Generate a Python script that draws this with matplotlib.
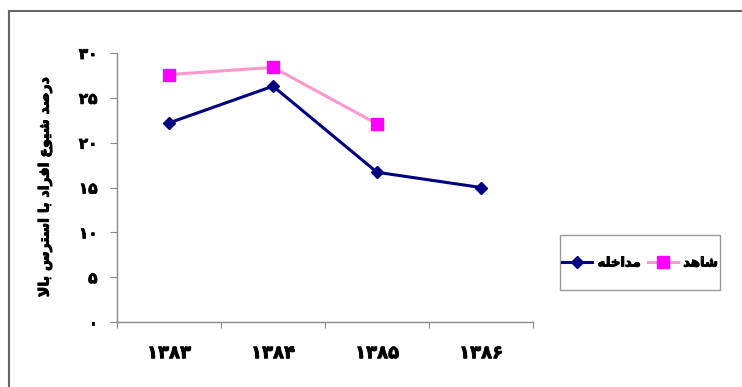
import matplotlib
matplotlib.use("Agg")
import matplotlib.pyplot as plt
from matplotlib.lines import Line2D
from matplotlib.patches import Rectangle
import matplotlib.patheffects as pe

# Data
years = ["۱۳۸۳", "۱۳۸۴", "۱۳۸۵", "۱۳۸۶"]
intervention = [22.2, 26.3, 16.7, 15.0]   # مداخله
control = [27.6, 28.4, 22.1]              # شاهد
y_ticks = [0, 5, 10, 15, 20, 25, 30]
y_tick_labels = ["۰", "۵", "۱۰", "۱۵", "۲۰", "۲۵", "۳۰"]
label_intervention = "مداخله"
label_control = "شاهد"
y_title = "درصد شیوع افراد با استرس بالا"

# Minimal Persian contextual shaping (presentation forms) + visual reordering
FORMS = {
    'ا': ('\uFE8D', '\uFE8E', None, None),
    'ب': ('\uFE8F', '\uFE90', '\uFE91', '\uFE92'),
    'ت': ('\uFE95', '\uFE96', '\uFE97', '\uFE98'),
    'خ': ('\uFEA5', '\uFEA6', '\uFEA7', '\uFEA8'),
    'د': ('\uFEA9', '\uFEAA', None, None),
    'ر': ('\uFEAD', '\uFEAE', None, None),
    'س': ('\uFEB1', '\uFEB2', '\uFEB3', '\uFEB4'),
    'ش': ('\uFEB5', '\uFEB6', '\uFEB7', '\uFEB8'),
    'ص': ('\uFEB9', '\uFEBA', '\uFEBB', '\uFEBC'),
    'ع': ('\uFEC9', '\uFECA', '\uFECB', '\uFECC'),
    'ف': ('\uFED1', '\uFED2', '\uFED3', '\uFED4'),
    'ل': ('\uFEDD', '\uFEDE', '\uFEDF', '\uFEE0'),
    'م': ('\uFEE1', '\uFEE2', '\uFEE3', '\uFEE4'),
    'ه': ('\uFEE9', '\uFEEA', '\uFEEB', '\uFEEC'),
    'و': ('\uFEED', '\uFEEE', None, None),
    'ی': ('\uFEEF', '\uFEF0', '\uFEF3', '\uFEF4'),
    'LA': ('\uFEFB', '\uFEFC', None, None),
}


def shape(text):
    chars = []
    i = 0
    while i < len(text):
        if text[i] == 'ل' and i + 1 < len(text) and text[i + 1] == 'ا':
            chars.append('LA')
            i += 2
        else:
            chars.append(text[i])
            i += 1
    out = []
    for k, c in enumerate(chars):
        if c not in FORMS:
            out.append(c)
            continue
        prev = chars[k - 1] if k > 0 else None
        nxt = chars[k + 1] if k + 1 < len(chars) else None
        jp = prev in FORMS and FORMS[prev][2] is not None
        jn = FORMS[c][2] is not None and nxt in FORMS
        iso, fin, ini, med = FORMS[c]
        if jp and jn:
            out.append(med)
        elif jp:
            out.append(fin)
        elif jn:
            out.append(ini)
        else:
            out.append(iso)
    return "".join(out)[::-1]


plt.rcParams['font.family'] = ['DejaVu Sans']
plt.rcParams['font.weight'] = 'bold'

W, H = 742, 387
fig = plt.figure(figsize=(W / 100, H / 100), dpi=100)
ax = fig.add_axes([117 / W, 1 - 322 / H, (533 - 117) / W, (322 - 53) / H])

xs_i = [i + 0.5 for i in range(len(intervention))]
xs_c = [i + 0.5 for i in range(len(control))]

ax.plot(xs_c, control, color='#FF99CC', lw=2.2, marker='s', ms=9,
        mfc='#FF00FF', mec='#FF00FF', label=shape(label_control), zorder=3)
ax.plot(xs_i, intervention, color='#000080', lw=2.2, marker='D', ms=6.5,
        mfc='#000080', mec='#000080', label=shape(label_intervention), zorder=4)

ax.set_xlim(0, len(years))
ax.set_ylim(0, 30)

ax.set_xticks(range(len(years) + 1))
ax.set_xticklabels([])
ax.set_xticks(xs_i, minor=True)
ax.set_xticklabels(years, minor=True, fontsize=13, fontweight='bold')
ax.tick_params(axis='x', which='major', direction='out', length=4, color='#888888')
ax.tick_params(axis='x', which='minor', length=0, pad=16)

ax.set_yticks(y_ticks)
ax.set_yticklabels(y_tick_labels, fontsize=11, fontweight='bold')
ax.tick_params(axis='y', direction='out', length=5, color='#888888', pad=9)

for t in ax.get_xticklabels(minor=True) + ax.get_yticklabels():
    t.set_path_effects([pe.withStroke(linewidth=0.6, foreground='black')])

for s in ['top', 'right']:
    ax.spines[s].set_visible(False)
for s in ['left', 'bottom']:
    ax.spines[s].set_color('#888888')
    ax.spines[s].set_linewidth(1.0)

fig.text(45 / W, 1 - 187.5 / H, shape(y_title), rotation=90, ha='center',
         va='center', fontsize=10.2, fontweight='bold',
         path_effects=[pe.withStroke(linewidth=0.65, foreground='black')])

# Legend box
fig.add_artist(Rectangle((560 / W, 1 - 290 / H), 160 / W, 55 / H,
                         transform=fig.transFigure, facecolor='white',
                         edgecolor='#999999', lw=1.0, zorder=5))
handles, labels = ax.get_legend_handles_labels()
leg = fig.legend([handles[1], handles[0]], [labels[1], labels[0]], ncol=2,
                 loc='center', bbox_to_anchor=(640 / W, 1 - 263 / H),
                 frameon=False, prop={'size': 9.5, 'weight': 'bold'},
                 handlelength=2.3, columnspacing=0.5, handletextpad=0.4,
                 borderpad=0.2)
leg.set_zorder(6)
for t in leg.get_texts():
    t.set_path_effects([pe.withStroke(linewidth=0.7, foreground='black')])

# Outer frame (top and left edges)
fig.add_artist(Line2D([9 / W, 1], [1 - 11 / H, 1 - 11 / H], color='#666666', lw=1.5))
fig.add_artist(Line2D([9 / W, 9 / W], [0, 1 - 11 / H], color='#666666', lw=1.5))

fig.savefig("out.png", dpi=100)
